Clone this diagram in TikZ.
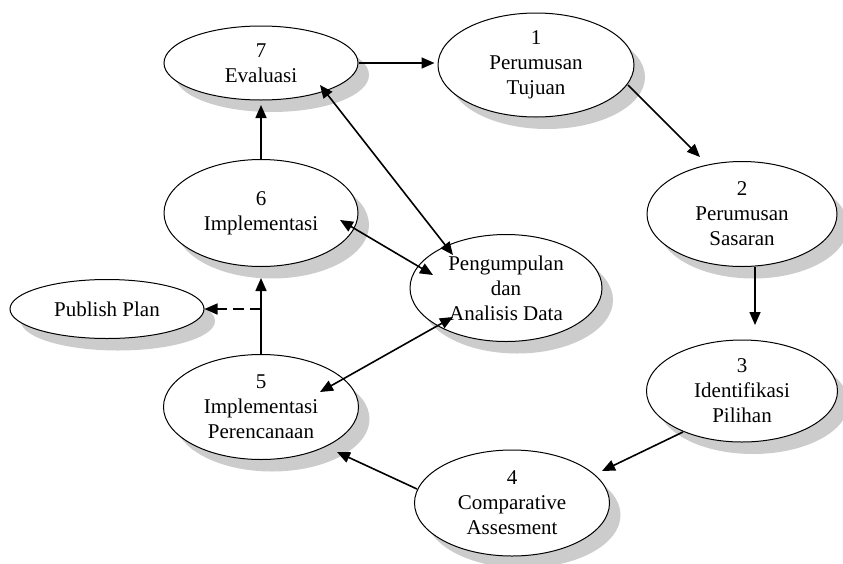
\documentclass[tikz,border=0pt]{standalone}
\usepackage{fontspec}
\setmainfont{Liberation Serif}
\usetikzlibrary{shapes.geometric,shadows,arrows.meta}
\begin{document}
\begin{tikzpicture}[x=1pt,y=-1pt,
  oval/.style={ellipse, draw=black, line width=1pt, fill=white, inner sep=-8pt, align=center,
    font=\fontsize{21}{25}\selectfont,
    general shadow={fill=black!20, shadow xshift=11pt, shadow yshift=-12pt}},
  tip/.style={-{Triangle[length=13pt,width=11pt]}},
  arr/.style={line width=1.6pt, tip},
  darr/.style={line width=1.6pt, {Triangle[length=13pt,width=11pt]}-{Triangle[length=13pt,width=11pt]}},
  dasharr/.style={line width=1.6pt, dash pattern=on 11pt off 6pt, tip}]
\useasboundingbox (0,0) rectangle (843,563);

\node[oval, minimum width=194pt, minimum height=74pt]  (n7) at (261,63)  {7\\Evaluasi};
\node[oval, minimum width=196pt, minimum height=104pt] (n1) at (536,65)  {1\\Perumusan\\Tujuan};
\node[oval, minimum width=190pt, minimum height=105pt] (n2) at (742,214) {2\\Perumusan\\Sasaran};
\node[oval, minimum width=191pt, minimum height=102pt] (n3) at (742,391) {3\\Identifikasi\\Pilihan};
\node[oval, minimum width=195pt, minimum height=106pt] (n4) at (512,503) {4\\Comparative\\Assesment};
\node[oval, minimum width=195pt, minimum height=105pt] (n5) at (261,407) {5\\Implementasi\\Perencanaan};
\node[oval, minimum width=194pt, minimum height=107pt] (n6) at (261,213) {6\\Implementasi};
\node[oval, minimum width=194pt, minimum height=59pt]  (pp) at (107,309) {Publish Plan};
\node[oval, minimum width=192pt, minimum height=107pt] (pd) at (506,288) {Pengumpulan\\dan\\Analisis Data};

% main cycle
\draw[arr] (n7.east) -- ([xshift=-3pt]n7.east -| n1.west);
\draw[arr] ([shift={(92,20)}]n1.center) -- ([shift={(-42,-57)}]n2.center);
\draw[arr] ([shift={(13,53)}]n2.center) -- ([shift={(13,-66)}]n3.center);
\draw[arr] ([shift={(-59,41)}]n3.center) -- ([shift={(90,-32)}]n4.center);
\draw[arr] ([shift={(-95,-14)}]n4.center) -- ([shift={(76,45)}]n5.center);
\draw[arr] (n5.north) -- ([shift={(0,65)}]n6.center);
\draw[arr] (n6.north) -- ([shift={(0,42)}]n7.center);

% publish plan
\draw[dasharr] (pp.east -| n5.north) -- (pp.east);

% data links
\draw[darr] ([shift={(59,22)}]n7.center) -- ([shift={(-53,-33)}]pd.center);
\draw[darr] ([shift={(79,7)}]n6.center) -- ([shift={(-73,-13)}]pd.center);
\draw[darr] ([shift={(-53,29)}]pd.center) -- ([shift={(59,-15)}]n5.center);
\end{tikzpicture}
\end{document}
